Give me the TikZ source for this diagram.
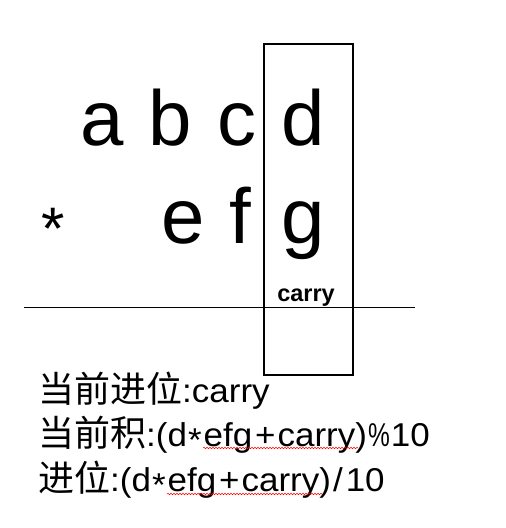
\documentclass[tikz,border=0pt]{standalone}
\usepackage{fontspec}
\usepackage{graphicx}
\setmainfont{Liberation Sans}
\newfontfamily\cjk{Noto Sans CJK SC}
\newfontfamily\lat[FakeStretch=1.06]{Liberation Sans}
\usetikzlibrary{decorations.pathmorphing}
\newcommand{\zh}[1]{{\cjk\fontsize{36}{36}\selectfont #1}}
\newcommand{\mstar}{\kern1pt\raisebox{-0.18em}{*}\kern2pt}
\newcommand{\mplus}{\kern3pt+\kern2pt}
\newcommand{\mslash}{\kern2pt/\kern3pt}
\newcommand{\mpct}{\kern1pt\scalebox{0.7}[1]{\%}\kern1pt}
\tikzset{
  big/.style={inner sep=0pt, anchor=base, font=\fontsize{78}{78}\selectfont},
  small/.style={inner sep=0pt, anchor=base, font=\fontsize{23.5}{23.5}\selectfont\bfseries},
  formula/.style={inner sep=0pt, anchor=base west, font=\lat\fontsize{33}{33}\selectfont},
  frame/.style={draw=black, line width=1.5pt},
  rule/.style={draw=black, line width=1pt},
  spell/.style={draw=red, line width=0.5pt, decorate, decoration={snake, amplitude=0.8pt, segment length=3pt}}
}
\begin{document}
\begin{tikzpicture}[x=1pt,y=-1pt]
\useasboundingbox (0,0) rectangle (506,528);
\node[big] (a) at (102,145) {a};
\node[big] (b) at (170,145) {b};
\node[big] (c) at (237,145) {c};
\node[big] (d) at (303,145) {d};
\node[inner sep=0pt, anchor=base, font=\fontsize{60}{60}\selectfont] (star) at (53,249) {*};
\node[big] (e) at (183,243) {e};
\node[big] (f) at (240,243) {f};
\node[big] (g) at (303,243) {g};
\node[small] (carry) at (306,301) {carry};
\coordinate (l1) at (24,307);
\coordinate (l2) at (415,307);
\draw[rule] (l1) -- (l2);
\coordinate (r1) at (264,44);
\coordinate (r2) at (353,375);
\draw[frame] (r1) rectangle (r2);
\node[formula] (t1) at (38,402) {\zh{当前进位}:carry};
\node[formula] (t2) at (38,446) {\zh{当前积}:(d\mstar efg\mplus carry)\mpct 10};
\node[formula] (t3) at (38,491) {\zh{进位}:(d\mstar efg\mplus carry)\mslash 10};
\coordinate (s1) at (203,448);
\coordinate (s2) at (358,448);
\coordinate (s3) at (167,494);
\coordinate (s4) at (322,494);
\draw[spell] (s1) -- (s2);
\draw[spell] (s3) -- (s4);
\end{tikzpicture}
\end{document}
